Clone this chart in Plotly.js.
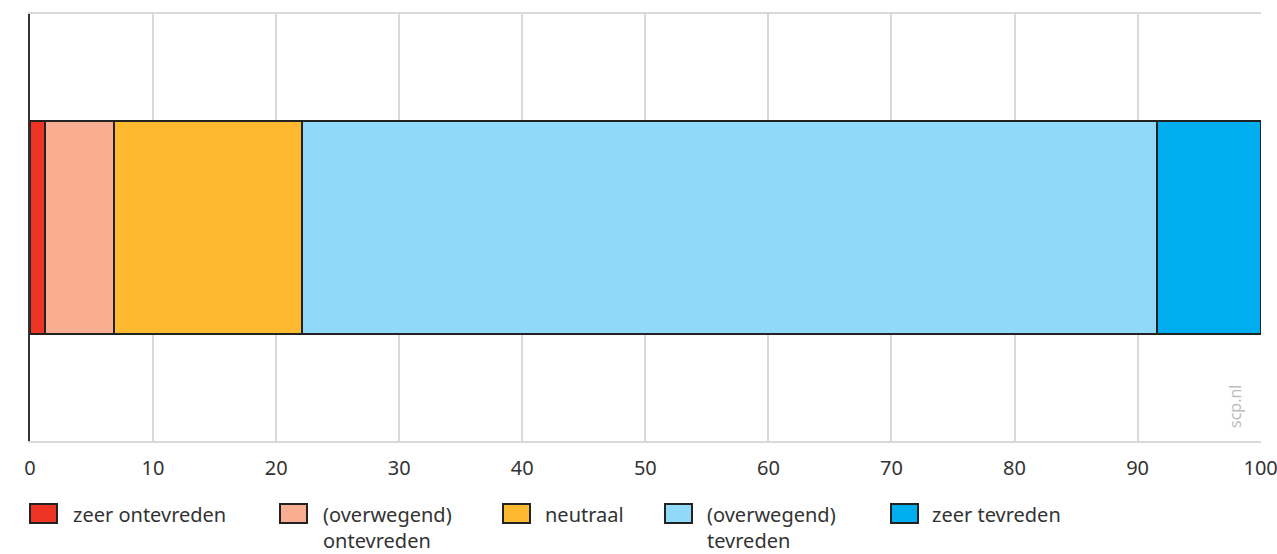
<!DOCTYPE html>
<html>
<head>
<meta charset="utf-8">
<script src="https://cdn.plot.ly/plotly-3.0.1.min.js"></script>
<style>html,body{margin:0;padding:0;background:#fff;}#chart{width:1277px;height:554px;}</style>
</head>
<body>
<div id="chart"></div>
<script>
// ---- data ----
const categories = ["zeer ontevreden", "(overwegend) ontevreden", "neutraal", "(overwegend) tevreden", "zeer tevreden"];
const legendLabels = ["zeer ontevreden", "(overwegend)<br>ontevreden", "neutraal", "(overwegend)<br>tevreden", "zeer tevreden"];
const values = [1.2, 5.6, 15.3, 69.5, 8.4];
const rowLabel = ["totaal"];
const tickValues = [0, 10, 20, 30, 40, 50, 60, 70, 80, 90, 100];
const tickLabels = ["0", "10", "20", "30", "40", "50", "60", "70", "80", "90", "100"];
const colors = ["#EE3424", "#F9AE92", "#FDBA30", "#91D9F8", "#00ADEE"];

// ---- layout helpers (pixel -> paper) ----
const W = 1277, H = 554;
const M = {l: 30, r: 16, t: 14, b: 113};
const PW = W - M.l - M.r, PH = H - M.t - M.b;
const px = x => (x - M.l) / PW;
const py = y => (H - M.b - y) / PH;
const legendSymX = [30, 280, 503, 665, 891];
const legendTxtX = [72, 322, 544, 706, 931];
const FONT = "Noto Sans, Open Sans, sans-serif";

const traces = categories.map((c, i) => ({
  type: "bar",
  orientation: "h",
  name: c,
  y: rowLabel,
  x: [values[i]],
  marker: {color: colors[i], line: {color: "#222", width: 2}},
  hoverinfo: "name+x",
  showlegend: false
}));

const shapes = [];
const annotations = [];
categories.forEach((c, i) => {
  shapes.push({
    type: "rect", xref: "paper", yref: "paper",
    x0: px(legendSymX[i]), x1: px(legendSymX[i] + 27),
    y0: py(523), y1: py(504),
    fillcolor: colors[i], line: {color: "#222", width: 2}
  });
  annotations.push({
    xref: "paper", yref: "paper",
    x: px(legendTxtX[i]), y: py(500),
    xanchor: "left", yanchor: "top", align: "left",
    showarrow: false, text: legendLabels[i], borderpad: 0,
    font: {family: FONT, size: 20, color: "#333"}
  });
});
annotations.push({
  xref: "paper", yref: "paper",
  x: px(1248), y: py(430), xanchor: "right", yanchor: "bottom",
  textangle: -90, showarrow: false, text: "scp.nl",
  font: {family: FONT, size: 16, color: "#bdbdbd"}
});

const layout = {
  width: W, height: H,
  margin: M,
  paper_bgcolor: "#fff", plot_bgcolor: "#fff",
  barmode: "stack",
  bargap: 0.5,
  showlegend: false,
  font: {family: FONT, color: "#333"},
  xaxis: {
    range: [0, 100.03], tickvals: tickValues, ticktext: tickLabels,
    showgrid: true, gridcolor: "#d9d9d9", gridwidth: 1.5,
    showline: true, mirror: true, linecolor: "#d9d9d9", linewidth: 1.5,
    zeroline: false, ticks: "outside", ticklen: 8, tickcolor: "rgba(0,0,0,0)",
    ticklabeloverflow: "allow",
    tickfont: {family: FONT, size: 20, color: "#333"}, fixedrange: true
  },
  yaxis: {
    range: [-0.5, 0.5], showticklabels: false, showgrid: false, zeroline: false,
    showline: true, linecolor: "#333", linewidth: 2, ticks: "", fixedrange: true
  },
  shapes: shapes,
  annotations: annotations
};

Plotly.newPlot("chart", traces, layout, {displayModeBar: false});
</script>
</body>
</html>
